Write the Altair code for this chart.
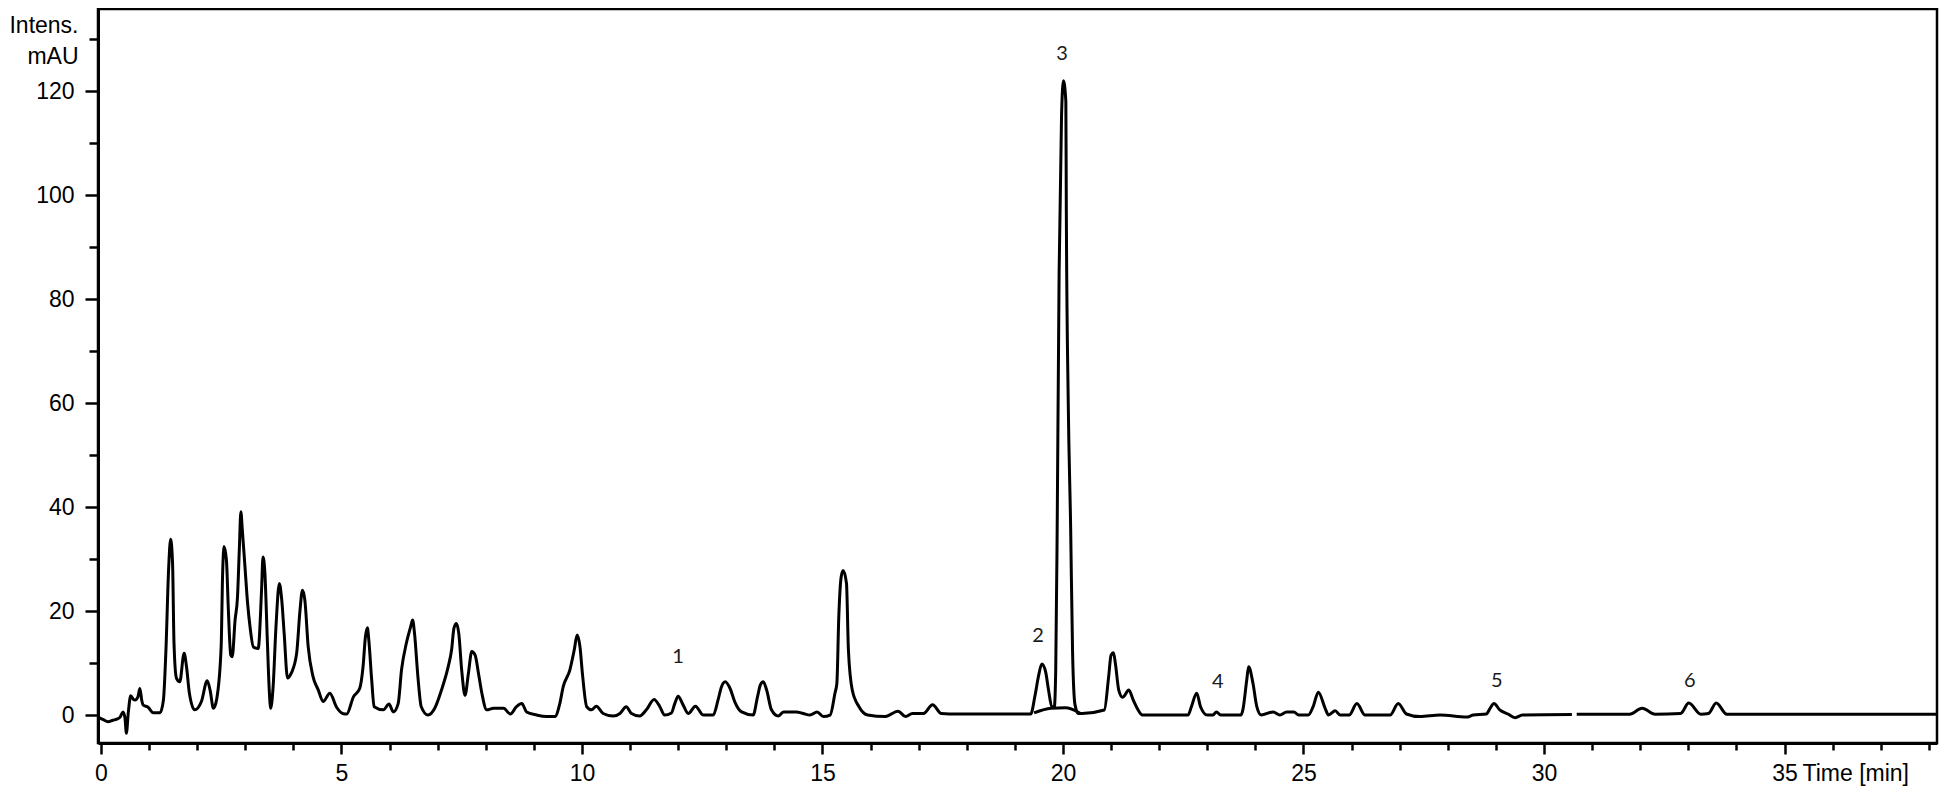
import altair as alt
import pandas as pd

# ---- chromatogram trace (retention time in min, intensity in mAU) ----
time_a = [-0.06, 0.05, 0.15, 0.25, 0.33, 0.40, 0.46, 0.50, 0.53, 0.57, 0.62, 0.68, 0.71, 0.77, 0.81, 0.85, 0.88,
          0.98, 1.09, 1.23, 1.30, 1.35, 1.41, 1.45, 1.49, 1.52, 1.57, 1.64, 1.73, 1.78, 1.84, 1.95, 2.09, 2.21,
          2.27, 2.34, 2.41, 2.50, 2.53, 2.56, 2.61, 2.65, 2.70, 2.73, 2.79, 2.84, 2.88, 2.91, 2.94, 2.99, 3.05,
          3.10, 3.17, 3.27, 3.34, 3.37, 3.41, 3.46, 3.50, 3.53, 3.58, 3.64, 3.71, 3.76, 3.81, 3.88, 3.96, 4.07,
          4.14, 4.19, 4.24, 4.31, 4.41, 4.52, 4.62, 4.76, 4.90, 5.04, 5.11, 5.25, 5.38, 5.45, 5.50, 5.54, 5.57,
          5.63, 5.68, 5.87, 5.99, 6.08, 6.18, 6.25, 6.35, 6.44, 6.48, 6.52, 6.59, 6.66, 6.80, 6.94, 7.08, 7.22,
          7.29, 7.34, 7.39, 7.44, 7.50, 7.57, 7.64, 7.71, 7.78, 7.85, 7.92, 8.02, 8.16, 8.37, 8.51, 8.64, 8.75,
          8.85, 9.06, 9.26, 9.44, 9.54, 9.61, 9.75, 9.84, 9.90, 9.96, 10.01, 10.10, 10.20, 10.30, 10.44, 10.65,
          10.79, 10.92, 11.03, 11.20, 11.34, 11.50, 11.62, 11.72, 11.86, 11.93, 12.00, 12.10, 12.21, 12.36,
          12.52, 12.73, 12.83, 12.90, 12.98, 13.08, 13.18, 13.32, 13.56, 13.65, 13.71, 13.77, 13.84, 13.94,
          14.08, 14.19, 14.46, 14.60, 14.74, 14.89, 15.02, 15.16, 15.26, 15.30, 15.34, 15.39, 15.43, 15.50,
          15.54, 15.62, 15.76, 15.94, 16.31, 16.57, 16.73, 16.87, 17.10, 17.29, 17.47, 17.80, 19.33, 19.42,
          19.49, 19.56, 19.64, 19.70, 19.77, 19.82, 19.85, 19.88, 19.92, 19.97, 20.01, 20.06, 20.07, 20.11,
          20.16, 20.20, 20.25, 20.32, 20.40, 20.86, 20.95, 21.00, 21.05, 21.09, 21.16, 21.24, 21.37, 21.46,
          21.56, 21.65, 22.60, 22.67, 22.78, 22.86, 23.00, 23.12, 23.19, 23.28, 23.70, 23.74, 23.82, 23.86,
          23.95, 24.03, 24.12, 24.37, 24.51, 24.65, 24.80, 24.90, 25.10, 25.20, 25.31, 25.45, 25.52, 25.66,
          25.76, 25.95, 26.11, 26.28, 26.80, 26.97, 27.14, 27.42, 27.84, 28.39, 28.53, 28.80, 28.88, 28.96,
          29.08, 29.25, 29.40, 29.55, 30.58]
intens_a = [-0.4, -0.9, -1.3, -1.0, -0.8, -0.4, 0.6, -0.5, -3.5, 0.5, 3.7, 3.0, 2.9, 3.5, 5.1, 2.8, 1.9,
            1.5, 0.45, 0.45, 2.9, 11.9, 28.5, 33.8, 29.2, 13.8, 7.1, 6.4, 11.9, 9.3, 4.2, 1.0, 2.6, 6.6,
            4.8, 1.3, 3.2, 13.1, 26.9, 32.4, 29.8, 20.2, 11.5, 11.2, 18.3, 22.7, 32.4, 39.1, 35.6, 29.2, 21.5,
            17.0, 13.1, 12.8, 24.0, 30.4, 27.2, 14.4, 4.8, 1.3, 5.4, 17.0, 25.3, 22.1, 15.7, 7.1, 8.1, 11.9,
            20.2, 24.0, 22.1, 13.1, 7.4, 4.8, 2.6, 4.2, 1.5, 0.25, 0.2, 3.5, 5.1, 9.3, 15.1, 16.8, 14.4,
            6.7, 1.6, 1.0, 2.1, 0.6, 2.2, 8.7, 13.8, 17.0, 18.3, 15.7, 7.4, 1.6, 0.0, 1.3, 4.8, 9.3,
            12.5, 16.7, 17.6, 15.7, 8.7, 3.8, 8.0, 12.2, 11.5, 8.0, 4.2, 1.0, 1.3, 1.3, 0.2, 1.6, 2.2,
            0.6, 0.0, -0.3, -0.3, 2.2, 5.4, 8.7, 12.5, 15.4, 13.1, 8.0, 1.6, 1.0, 1.7, 0.3, -0.2,
            0.3, 1.6, 0.3, -0.2, 1.0, 3.0, 1.6, 0.0, 0.4, 2.2, 3.6, 2.0, 0.3, 1.7,
            0.0, 0.0, 2.9, 5.4, 6.4, 5.1, 2.5, 0.6, 0.0, 3.5, 5.8, 6.4, 4.8, 1.0,
            -0.2, 0.6, 0.6, 0.3, 0.0, 0.6, -0.3, 0.0, 4.2, 6.1, 18.9, 26.6, 27.8, 25.3,
            12.5, 4.8, 1.6, 0.0, -0.3, 0.75, -0.3, 0.3, 0.3, 2.0, 0.3, 0.2, 0.2, 3.8,
            7.4, 9.8, 8.3, 4.8, 1.6, 1.5, 8.8, 36.0, 85.0, 115.0, 122.0, 118.0, 97.0, 60.0,
            36.0, 12.0, 2.0, 0.3, 0.3, 0.96, 7.4, 11.5, 12.0, 9.9, 4.8, 3.4, 4.8, 2.9,
            1.0, 0.0, 0.0, 1.6, 4.2, 1.6, 0.0, 0.0, 0.6, 0.0, 0.0, 1.0, 6.7, 9.3,
            6.1, 1.6, 0.0, 0.6, 0.0, 0.6, 0.6, 0.0, 0.0, 1.6, 4.4, 1.3, 0.0, 0.8,
            0.0, 0.0, 2.2, 0.0, 0.0, 2.2, 0.2, -0.3, 0.0, -0.4, 0.0, 0.2, 1.3, 2.2,
            1.0, 0.2, -0.5, 0.0, 0.1]
time_b = [30.68, 31.78, 32.04, 32.31, 32.84, 33.01, 33.26, 33.42, 33.58, 33.80, 38.17]
intens_b = [0.15, 0.15, 1.3, 0.15, 0.3, 2.3, 0.15, 0.3, 2.3, 0.15, 0.15]

# integration baseline drawn under peaks 2 and 3
base_t = [19.40, 19.75, 20.05, 20.35]
base_y = [0.4, 1.3, 1.4, 0.4]

# peak annotations
peak_labels = ["1", "2", "3", "4", "5", "6"]
peak_t = [12.0, 19.48, 19.98, 23.22, 29.02, 33.03]
peak_y = [10.0, 14.0, 126.0, 5.2, 5.4, 5.4]

x_ticks = list(range(0, 39))
y_ticks = list(range(0, 140, 10))

df = pd.concat([
    pd.DataFrame({"t": time_a, "v": intens_a, "seg": "a"}),
    pd.DataFrame({"t": time_b, "v": intens_b, "seg": "b"}),
    pd.DataFrame({"t": base_t, "v": base_y, "seg": "base"}),
], ignore_index=True)
labels_df = pd.DataFrame({"lab": peak_labels, "t": peak_t, "v": peak_y})

x_scale = alt.Scale(domain=[-0.06, 38.17], nice=False, zero=False)
y_scale = alt.Scale(domain=[-5.38, 135.8], nice=False, zero=False)

x_axis = alt.Axis(
    values=x_ticks,
    labelExpr="datum.value % 5 === 0 ? datum.label : ''",
    tickSize={"condition": {"test": "datum.value % 5 === 0", "value": 11}, "value": 7},
    labelPadding=8,
    labelOverlap=False,
    labelFlush=False,
    grid=False,
    title="Time [min]",
    titleX=1704,
    titleY=37,
    titleAlign="left",
    titleBaseline="alphabetic",
)
y_axis = alt.Axis(
    values=y_ticks,
    labelExpr="datum.value % 20 === 0 ? datum.label : ''",
    tickSize={"condition": {"test": "datum.value % 20 === 0", "value": 13}, "value": 9},
    labelPadding=11,
    labelOverlap=False,
    labelFlush=False,
    grid=False,
    title=["Intens.", "mAU"],
    titleAngle=0,
    titleAlign="right",
    titleBaseline="alphabetic",
    titleX=-20,
    titleY=23,
    titleLineHeight=31,
)

line = alt.Chart(df).mark_line(
    color="black", strokeWidth=3, strokeJoin="round", interpolate="monotone"
).encode(
    x=alt.X("t:Q", scale=x_scale, axis=x_axis),
    y=alt.Y("v:Q", scale=y_scale, axis=y_axis),
    detail="seg:N",
)

text = alt.Chart(labels_df).mark_text(
    font="Lato", fontSize=20, color="#1a1a1a", baseline="alphabetic", align="center"
).encode(
    x=alt.X("t:Q", scale=x_scale),
    y=alt.Y("v:Q", scale=y_scale),
    text="lab:N",
)

chart = (
    alt.layer(line, text)
    .properties(
        width=1839,
        height=734,
        autosize=alt.AutoSizeParams(type="none"),
        padding={"left": 90, "top": 1, "right": 5, "bottom": 44},
        background="white",
    )
    .configure_view(stroke="black", strokeWidth=2.5)
    .configure_axis(
        labelFont="Liberation Sans",
        labelFontSize=23,
        labelColor="black",
        titleFont="Liberation Sans",
        titleFontSize=23,
        titleFontWeight="normal",
        titleColor="black",
        tickColor="black",
        tickWidth=2.5,
        domainColor="black",
        domainWidth=3,
    )
)

chart.save("out.html", embed_options={"renderer": "svg", "actions": False})
